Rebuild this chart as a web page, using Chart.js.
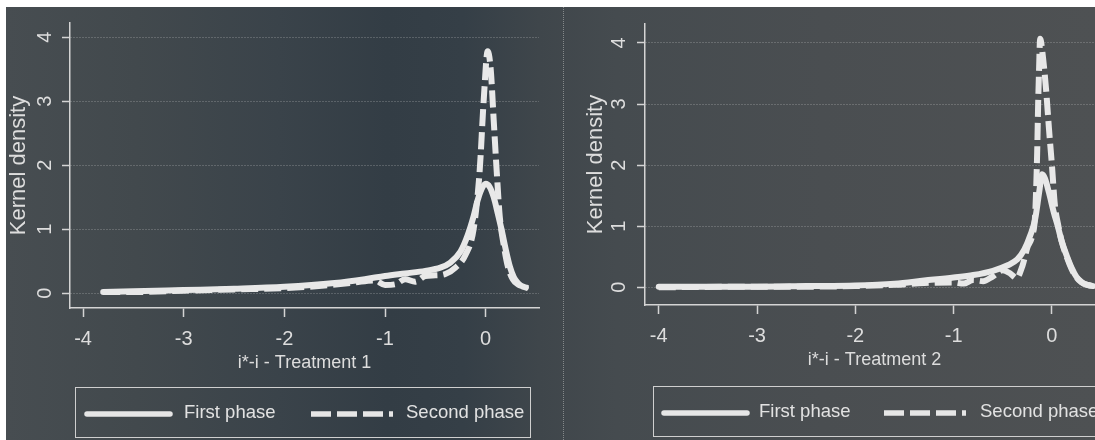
<!DOCTYPE html>
<html>
<head>
<meta charset="utf-8">
<script src="https://cdn.jsdelivr.net/npm/chart.js@4.4.1/dist/chart.umd.min.js"></script>
<style>
  html, body { margin: 0; padding: 0; background: #fff; width: 1095px; height: 440px; overflow: hidden;
    font-family: "Liberation Sans", Arial, sans-serif; }
  #photo { position: absolute; left: 6px; top: 7px; width: 1089px; height: 433px;
    background: linear-gradient(90deg, #474d51 0%, #42494d 12%, #3a434a 25%, #333d45 35%, #353f47 42%,
      #3f464b 49%, #454b4f 56%, #4a4e51 75%, #4e5153 100%); }
  canvas { position: absolute; top: 0; }
  #chart1 { left: 0; }
  #chart2 { left: 563px; }
  .divider { position: absolute; left: 563px; top: 7px; height: 433px; border-left: 1px dotted rgba(215,215,215,0.45); }
  .legend { position: absolute; height: 51px; border: 1.5px solid #cfcfcf; box-sizing: border-box;
    color: #e2e2e2; font-size: 18.5px; }
  .legend svg, .legend span { position: absolute; }
  .legend span { top: 13px; line-height: 22px; white-space: nowrap; }
</style>
</head>
<body>
<div id="photo"></div>
<div class="divider"></div>
<canvas id="chart1" width="560" height="440"></canvas>
<canvas id="chart2" width="560" height="440"></canvas>

<div class="legend" style="left:75px; top:387px; width:456px;">
  <svg width="90" height="12" style="left:8px; top:20px"><line x1="3" y1="6" x2="86" y2="6" stroke="#e6e6e6" stroke-width="5.5" stroke-linecap="round"/></svg>
  <span style="left:108px">First phase</span>
  <svg width="90" height="12" style="left:233px; top:20px"><line x1="2" y1="6" x2="86" y2="6" stroke="#e6e6e6" stroke-width="5.5" stroke-dasharray="20 6 20 6 20 6 4 30"/></svg>
  <span style="left:330px">Second phase</span>
</div>
<div class="legend" style="left:653px; top:386px; width:470px;">
  <svg width="90" height="12" style="left:7px; top:20px"><line x1="3" y1="6" x2="86" y2="6" stroke="#e6e6e6" stroke-width="5.5" stroke-linecap="round"/></svg>
  <span style="left:105px">First phase</span>
  <svg width="90" height="12" style="left:228px; top:20px"><line x1="2" y1="6" x2="86" y2="6" stroke="#e6e6e6" stroke-width="5.5" stroke-dasharray="20 6 20 6 20 6 4 30"/></svg>
  <span style="left:326px">Second phase</span>
</div>

<script>
// Treatment 1 - kernel density estimates
const t1FirstX  = [-3.8, -3.5, -3.0, -2.5, -2.0, -1.5, -1.2, -1.0, -0.8, -0.6, -0.45, -0.35, -0.25, -0.18, -0.12, -0.08, -0.04, 0.0, 0.04, 0.08, 0.12, 0.16, 0.20, 0.24, 0.28, 0.32, 0.36, 0.40];
const t1FirstY  = [0.02, 0.03, 0.05, 0.07, 0.10, 0.16, 0.22, 0.27, 0.31, 0.35, 0.40, 0.48, 0.65, 0.90, 1.20, 1.45, 1.63, 1.71, 1.66, 1.50, 1.25, 0.98, 0.68, 0.42, 0.25, 0.16, 0.11, 0.09];
const t1SecondX = [-3.8, -3.5, -3.0, -2.5, -2.0, -1.6, -1.3, -1.1, -1.0, -0.9, -0.8, -0.7, -0.6, -0.5, -0.4, -0.3, -0.2, -0.12, -0.06, -0.02, 0.02, 0.05, 0.08, 0.11, 0.14, 0.18, 0.22, 0.27, 0.32, 0.38, 0.42];
const t1SecondY = [0.02, 0.02, 0.04, 0.06, 0.08, 0.12, 0.17, 0.20, 0.13, 0.14, 0.22, 0.18, 0.27, 0.28, 0.30, 0.40, 0.60, 1.00, 1.90, 3.00, 3.78, 3.50, 2.70, 1.90, 1.20, 0.75, 0.42, 0.22, 0.14, 0.10, 0.08];

// Treatment 2
const t2FirstX  = [-4.0, -3.5, -3.0, -2.5, -2.0, -1.6, -1.3, -1.0, -0.8, -0.6, -0.45, -0.35, -0.28, -0.22, -0.17, -0.13, -0.10, -0.07, -0.03, 0.02, 0.06, 0.10, 0.15, 0.20, 0.25, 0.30, 0.36, 0.42];
const t2FirstY  = [0.01, 0.01, 0.01, 0.02, 0.03, 0.06, 0.11, 0.16, 0.20, 0.27, 0.36, 0.46, 0.62, 0.85, 1.12, 1.55, 1.85, 1.78, 1.55, 1.22, 1.00, 0.75, 0.52, 0.32, 0.17, 0.09, 0.04, 0.02];
const t2SecondX = [-4.0, -3.0, -2.5, -2.0, -1.6, -1.3, -1.0, -0.9, -0.8, -0.7, -0.6, -0.5, -0.42, -0.36, -0.3, -0.25, -0.2, -0.17, -0.15, -0.14, -0.13, -0.12, -0.09, -0.06, -0.03, 0.0, 0.03, 0.06, 0.10, 0.15, 0.20, 0.25, 0.30, 0.36, 0.42];
const t2SecondY = [0.00, 0.01, 0.01, 0.02, 0.04, 0.07, 0.08, 0.06, 0.12, 0.10, 0.18, 0.28, 0.22, 0.15, 0.35, 0.65, 0.85, 1.20, 2.20, 3.00, 3.60, 4.07, 3.75, 3.25, 2.60, 2.00, 1.35, 1.05, 0.75, 0.50, 0.30, 0.16, 0.08, 0.04, 0.02];

const yTicks = [0, 1, 2, 3, 4];
const ink = '#e8e8e8';
const textColor = '#dddddd';
const axisColor = '#d4d4d4';
const fontFamily = '"Liberation Sans", Arial, sans-serif';

function toPoints(xs, ys) {
  return xs.map((x, i) => ({ x: x, y: ys[i] }));
}

function densityChart(id, s) {
  return new Chart(document.getElementById(id), {
    type: 'line',
    data: {
      datasets: [
        { label: 'First phase', data: toPoints(s.firstX, s.firstY), borderColor: ink, borderWidth: 6,
          pointRadius: 0, cubicInterpolationMode: 'monotone', borderJoinStyle: 'round', borderCapStyle: 'round' },
        { label: 'Second phase', data: toPoints(s.secondX, s.secondY), borderColor: ink, borderWidth: 6,
          borderDash: [17, 6], pointRadius: 0, cubicInterpolationMode: 'monotone', borderJoinStyle: 'round' }
      ]
    },
    options: {
      responsive: false,
      animation: false,
      devicePixelRatio: 1,
      layout: { padding: { left: 0, top: s.top, right: s.right, bottom: s.bottom } },
      plugins: { legend: { display: false }, tooltip: { enabled: false } },
      scales: {
        x: {
          type: 'linear', min: s.xMin, max: s.xMax,
          afterFit: sc => { sc.height = 70; },
          grid: { drawOnChartArea: false, drawTicks: true, tickLength: 9, tickColor: axisColor, tickWidth: 1.5 },
          border: { color: axisColor, width: 1.5 },
          ticks: { stepSize: 1, includeBounds: false, color: textColor, padding: 10,
            font: { family: fontFamily, size: 20 }, callback: v => String(v) },
          title: { display: true, text: s.xTitle, color: textColor, padding: { top: 0, bottom: 4 },
            font: { family: fontFamily, size: 18 } }
        },
        y: {
          min: s.yMin, max: s.yMax,
          afterFit: sc => { sc.width = s.axisWidth; },
          afterBuildTicks: sc => { sc.ticks = yTicks.map(v => ({ value: v })); },
          grid: { color: 'rgba(220,220,220,0.45)', lineWidth: 1, tickLength: 8, tickColor: axisColor, tickWidth: 1.5 },
          border: { color: axisColor, width: 1.5, dash: [1, 2] },
          ticks: { color: textColor, padding: s.tickPad, minRotation: 90, maxRotation: 90, crossAlign: 'center',
            font: { family: fontFamily, size: 20 }, callback: v => String(v) },
          title: { display: true, text: 'Kernel density', color: textColor, padding: { top: s.titlePad, bottom: 0 },
            font: { family: fontFamily, size: 22 } }
        }
      }
    }
  });
}

densityChart('chart1', {
  firstX: t1FirstX, firstY: t1FirstY, secondX: t1SecondX, secondY: t1SecondY,
  xTitle: 'i*-i - Treatment 1',
  xMin: -4.13, xMax: 0.53, yMin: -0.23, yMax: 4.22,
  top: 20, right: 21, bottom: 62, axisWidth: 70, tickPad: 11, titlePad: 6
});

densityChart('chart2', {
  firstX: t2FirstX, firstY: t2FirstY, secondX: t2SecondX, secondY: t2SecondY,
  xTitle: 'i*-i - Treatment 2',
  xMin: -4.14, xMax: 0.53, yMin: -0.29, yMax: 4.31,
  top: 22, right: 19, bottom: 65, axisWidth: 82, tickPad: 12, titlePad: 20
});
</script>
</body>
</html>
